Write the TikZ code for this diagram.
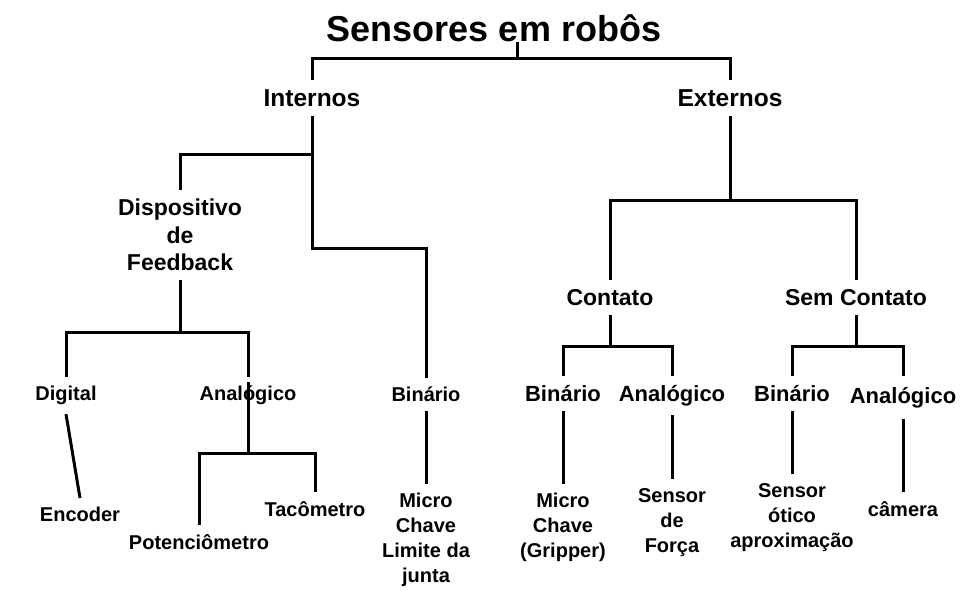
\documentclass[tikz,border=0pt]{standalone}
\usepackage{fontspec}
\setmainfont{Liberation Sans}
\usepackage{tikz}

\tikzset{
  titulo/.style={font=\bfseries\fontsize{36}{40}\selectfont, inner sep=0pt, anchor=base},
  nivel/.style={font=\bfseries\fontsize{23}{27.5}\selectfont, align=center, anchor=north, inner xsep=2pt, inner ysep=9pt},
  nivelg/.style={nivel, font=\bfseries\fontsize{24.5}{28}\selectfont},
  tipo/.style={font=\bfseries\fontsize{20}{25}\selectfont, align=center, anchor=north, inner xsep=2pt, inner ysep=9pt},
  tipog/.style={tipo, font=\bfseries\fontsize{22}{26}\selectfont},
  ramo/.style={line width=3pt}
}

\begin{document}
\begin{tikzpicture}[x=1pt,y=-1pt]
    \useasboundingbox (0,0) rectangle (971,590);
    % junctions
    \coordinate (jtop) at (517,58);
    \coordinate (jint1) at (312,154);
    \coordinate (jint2) at (312,248);
    \coordinate (jdisp) at (180,332);
    \coordinate (jana) at (248,453);
    \coordinate (jext) at (730,200);
    \coordinate (jcon) at (610,346);
    \coordinate (jsem) at (856,346);
    % nodes
    \node[titulo] (sens) at (494,41) {Sensores em robôs};
    \node[nivelg] (int) at (312,80) {Internos};
    \node[nivelg] (ext) at (730,80) {Externos};
    \node[nivel] (disp) at (180,190) {Dispositivo\\de\\Feedback};
    \node[tipo] (dig) at (66,377) {Digital};
    \node[tipo] (ana1) at (248,377) {Analógico};
    \node[tipo] (bin1) at (426,378) {Binário};
    \node[tipo] (enc) at (80,498) {Encoder};
    \node[tipo] (pot) at (199,525) {Potenciômetro};
    \node[tipo] (tac) at (315,492) {Tacômetro};
    \node[tipo] (mc1) at (426,484) {Micro\\Chave\\Limite da\\junta};
    \node[nivel] (con) at (610,280) {Contato};
    \node[nivel] (sem) at (856,280) {Sem Contato};
    \node[tipog] (bin2) at (563,376) {Binário};
    \node[tipog] (ana2) at (672,376) {Analógico};
    \node[tipog] (bin3) at (792,376) {Binário};
    \node[tipog, inner ysep=11pt] (ana3) at (903,376) {Analógico};
    \node[tipo] (mc2) at (563,484) {Micro\\Chave\\(Gripper)};
    \node[tipo] (sf) at (672,479) {Sensor\\de\\Força};
    \node[tipo] (so) at (792,474) {Sensor\\ótico\\aproximação};
    \node[tipo] (cam) at (903,492) {câmera};
    % internos
    \draw[ramo] (sens.south -| jtop) -- (jtop);
    \draw[ramo] (int.north) |- (jtop) -| (ext.north);
    \draw[ramo] (int.south) -- (jint2) -| (bin1.north);
    \draw[ramo] (jint1) -| (disp.north);
    \draw[ramo] (disp.south) -- (jdisp);
    \draw[ramo] (dig.north) |- (jdisp) -| (ana1.north);
    \draw[ramo] ([yshift=-5pt]ana1.north) -- (jana);
    \draw[ramo] (pot.north) |- (jana) -| (tac.north);
    \draw[ramo] (dig.south) -- (enc.north);
    \draw[ramo] (bin1.south) -- (mc1.north);
    % externos
    \draw[ramo] (ext.south) -- (jext);
    \draw[ramo] (con.north) |- (jext) -| (sem.north);
    \draw[ramo] (con.south) -- (jcon);
    \draw[ramo] (bin2.north) |- (jcon) -| (ana2.north);
    \draw[ramo] (sem.south) -- (jsem);
    \draw[ramo] (bin3.north) |- (jsem) -| (ana3.north);
    \draw[ramo] (bin2.south) -- (mc2.north);
    \draw[ramo] (ana2.south) -- (sf.north);
    \draw[ramo] (bin3.south) -- (so.north);
    \draw[ramo] (ana3.south) -- (cam.north);
\end{tikzpicture}
\end{document}
